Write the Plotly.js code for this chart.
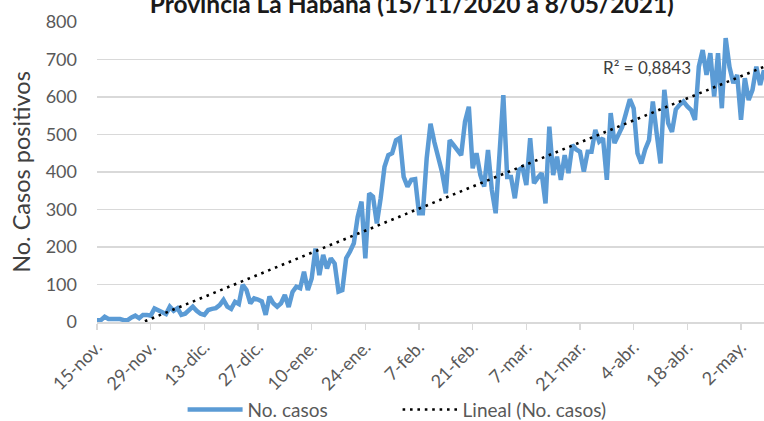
<!DOCTYPE html>
<html>
<head>
<meta charset="utf-8">
<script src="https://cdn.plot.ly/plotly-3.0.1.min.js"></script>
<style>
  html, body { margin: 0; padding: 0; background: #fff; }
  #chart { width: 764px; height: 421px; }
</style>
</head>
<body>
<div id="chart"></div>
<script>
// Daily positive cases, Provincia La Habana, 15-nov-2020 .. 8-may-2021 (one value per day)
const startDate = '2020-11-15';
const casos = [
  5, 5, 14, 8, 8, 8, 8, 5, 5, 12,
  17, 10, 19, 19, 17, 36, 30, 24, 21, 41,
  30, 37, 19, 22, 30, 41, 30, 22, 19, 32,
  35, 37, 45, 59, 41, 35, 54, 48, 99, 85,
  50, 63, 60, 55, 19, 68, 50, 41, 50, 72,
  40, 80, 94, 90, 134, 85, 116, 196, 125, 179,
  143, 170, 156, 81, 85, 170, 188, 210, 280, 321,
  170, 343, 334, 263, 330, 414, 445, 450, 485, 491,
  387, 361, 379, 381, 290, 290, 436, 529, 480, 440,
  400, 343, 485, 472, 460, 445, 534, 574, 410, 450,
  392, 361, 459, 352, 290, 450, 605, 387, 387, 330,
  405, 412, 365, 490, 370, 385, 397, 316, 521, 392,
  441, 379, 445, 397, 472, 460, 454, 401, 454, 454,
  512, 481, 490, 379, 557, 477, 499, 520, 557, 594,
  570, 450, 423, 460, 485, 588, 503, 423, 619, 530,
  507, 567, 579, 588, 575, 565, 539, 681, 725, 659,
  717, 601, 717, 570, 757, 680, 637, 659, 539, 650,
  592, 619, 681, 632, 672
];
const tickLabels = ['15-nov.', '29-nov.', '13-dic.', '27-dic.', '10-ene.', '24-ene.', '7-feb.',
  '21-feb.', '7-mar.', '21-mar.', '4-abr.', '18-abr.', '2-may.'];
const tickStepDays = 14;
const r2Text = 'R² = 0,8843';
const seriesName = 'No. casos';
const trendName = 'Lineal (No. casos)';

const DAY = 86400000;
const t0 = Date.parse(startDate + 'T00:00:00Z');
const fmt = ms => new Date(ms).toISOString().slice(0, 10);
const fechas = casos.map((_, i) => fmt(t0 + i * DAY));
const tickVals = tickLabels.map((_, k) => fmt(t0 + k * tickStepDays * DAY));

// Linear trendline (least squares on day index), as Excel does
const n = casos.length;
let sx = 0, sy = 0, sxx = 0, sxy = 0;
casos.forEach((v, i) => { sx += i; sy += v; sxx += i * i; sxy += i * v; });
const b = (n * sxy - sx * sy) / (n * sxx - sx * sx);
const a = (sy - b * sx) / n;
const tendencia = casos.map((_, i) => a + b * i);

const FONT = 'Lato, "Open Sans", sans-serif';

const data = [
  {
    x: fechas, y: casos, type: 'scatter', mode: 'lines', name: seriesName,
    line: { color: '#5b9bd5', width: 4.5, shape: 'linear' }
  },
  {
    x: fechas, y: tendencia, type: 'scatter', mode: 'lines', name: trendName,
    line: { color: '#000000', width: 2.6, dash: '2.6px,4.8px' }
  }
];

const layout = {
  width: 764, height: 421,
  margin: { l: 97, r: 0, t: 22, b: 99, pad: 0 },
  paper_bgcolor: '#ffffff', plot_bgcolor: '#ffffff',
  font: { family: FONT, color: '#595959', size: 18 },
  title: {
    text: '<b>Provincia La Habana (15/11/2020 a 8/05/2021)</b>',
    font: { family: FONT, size: 24.5, color: '#1a1a1a' },
    x: 0.539, xanchor: 'center', xref: 'container',
    y: 0.99, yanchor: 'middle', yref: 'container',
    automargin: false
  },
  xaxis: {
    type: 'date',
    range: [fechas[0], fechas[n - 1]],
    tickvals: tickVals, ticktext: tickLabels,
    tickangle: -45,
    tickfont: { family: FONT, size: 18, color: '#595959' },
    showgrid: false,
    showline: true, linecolor: '#d9d9d9', linewidth: 1.5,
    ticks: 'outside', ticklen: 6, tickcolor: '#d9d9d9', tickwidth: 1.5,
    zeroline: false, fixedrange: true, automargin: false
  },
  yaxis: {
    range: [0, 800], dtick: 100, tick0: 0,
    tickfont: { family: FONT, size: 18, color: '#595959' },
    showgrid: true, gridcolor: '#d9d9d9', gridwidth: 1.5,
    zeroline: false, showline: false, ticks: '',
    ticklabelstandoff: 19,
    title: { text: 'No. Casos positivos', font: { family: FONT, size: 23.5, color: '#404040' }, standoff: 8 },
    fixedrange: true, automargin: false
  },
  showlegend: true,
  legend: {
    orientation: 'h', xref: 'container', yref: 'container',
    x: 0.239, xanchor: 'left', y: 0.072, yanchor: 'top',
    font: { family: FONT, size: 19, color: '#595959' },
    itemwidth: 55, entrywidth: 145, entrywidthmode: 'pixels',
    bgcolor: 'rgba(0,0,0,0)'
  },
  annotations: [
    {
      text: r2Text, xref: 'paper', yref: 'paper', x: 0.825, y: 0.85,
      xanchor: 'center', yanchor: 'middle', showarrow: false,
      font: { family: FONT, size: 17, color: '#404040' }
    }
  ]
};

Plotly.newPlot('chart', data, layout, { displayModeBar: false, staticPlot: true });
</script>
</body>
</html>
